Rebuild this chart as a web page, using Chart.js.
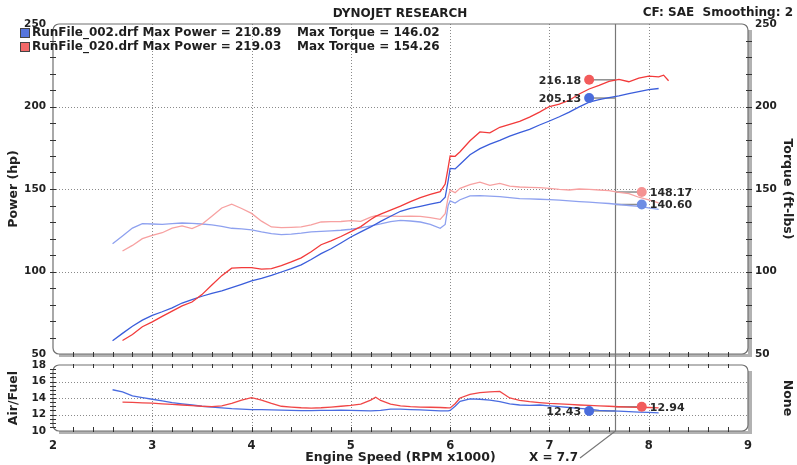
<!DOCTYPE html>
<html>
<head>
<meta charset="utf-8">
<title>Dynojet Research</title>
<script src="https://cdn.jsdelivr.net/npm/chart.js@4.4.1/dist/chart.umd.min.js"></script>
<style>
  html, body { margin: 0; padding: 0; background: #fff; }
  #wrap { position: relative; width: 797px; height: 465px; }
  #powerChart { position: absolute; left: 0; top: 0; }
  #afrChart { position: absolute; left: 0; top: 360px; }
</style>
</head>
<body>
<div id="wrap">
  <canvas id="powerChart" width="797" height="360"></canvas>
  <canvas id="afrChart" width="797" height="105"></canvas>
</div>
<script>
// Dyno run data (RPM x1000)
const runNames = ['RunFile_002.drf', 'RunFile_020.drf'];
const maxPower = [210.89, 219.03];
const maxTorque = [146.02, 154.26];

const blueRpm = [2.6, 2.7, 2.8, 2.9, 3.0, 3.1, 3.2, 3.3, 3.4, 3.5, 3.6, 3.7, 3.8, 3.9, 4.0, 4.1, 4.2, 4.3, 4.4, 4.5,
  4.6, 4.7, 4.8, 4.9, 5.0, 5.1, 5.2, 5.3, 5.4, 5.5, 5.6, 5.7, 5.8, 5.9, 5.95, 5.98, 6.0, 6.05,
  6.1, 6.2, 6.3, 6.4, 6.5, 6.6, 6.7, 6.8, 6.9, 7.0, 7.1, 7.2, 7.3, 7.4, 7.5, 7.6, 7.7, 7.8, 7.9, 8.0, 8.1];
const bluePower = [58.0, 62.5, 66.8, 70.5, 73.4, 75.6, 78.0, 80.9, 83.0, 85.0, 86.8, 88.3, 90.2, 92.2, 94.3, 95.8, 97.6, 99.7, 101.7, 104.0,
  107.3, 110.8, 113.8, 117.3, 120.9, 124.0, 127.0, 130.4, 133.5, 136.5, 138.2, 139.5, 140.8, 142.0, 145.0, 155.0, 162.5, 162.2,
  165.0, 170.8, 174.5, 177.2, 179.5, 182.0, 184.2, 186.2, 188.8, 191.2, 193.8, 196.6, 199.8, 202.6, 204.2, 205.4, 206.4, 207.8, 209.0, 210.2, 210.9];
const blueTorque = [116.8, 121.5, 126.3, 129.0, 128.8, 128.6, 129.0, 129.4, 129.2, 128.8, 128.2, 127.3, 126.2, 125.8, 125.2, 124.0, 123.0, 122.3, 122.6, 123.2,
  124.0, 124.3, 124.6, 125.0, 125.6, 126.5, 127.6, 128.8, 130.2, 131.0, 130.6, 130.0, 128.6, 126.2, 128.5, 140.0, 142.8, 141.5,
  143.5, 145.8, 146.0, 145.7, 145.4, 144.8, 144.2, 144.0, 143.8, 143.5, 143.2, 142.8, 142.4, 142.0, 141.6, 141.2, 140.6, 140.0, 139.5, 138.6, 137.6];
const blueAfr = [15.0, 14.75, 14.25, 14.05, 13.85, 13.65, 13.45, 13.3, 13.15, 13.0, 12.9, 12.8, 12.7, 12.65, 12.6, 12.58, 12.55, 12.52, 12.5, 12.48,
  12.48, 12.5, 12.5, 12.52, 12.5, 12.48, 12.45, 12.5, 12.65, 12.65, 12.6, 12.55, 12.5, 12.45, 12.45, 12.45, 12.5, 13.0,
  13.6, 13.9, 13.85, 13.75, 13.55, 13.3, 13.15, 13.1, 13.15, 13.05, 12.95, 12.85, 12.75, 12.65, 12.5, 12.45, 12.42, 12.35, 12.3, 12.25, 12.2];

const redRpm = [2.7, 2.8, 2.9, 3.0, 3.1, 3.2, 3.3, 3.4, 3.5, 3.6, 3.7, 3.8, 3.9, 4.0, 4.1, 4.2, 4.3, 4.4, 4.5, 4.6,
  4.7, 4.8, 4.9, 5.0, 5.1, 5.2, 5.25, 5.3, 5.4, 5.5, 5.6, 5.7, 5.8, 5.9, 5.95, 5.98, 6.0, 6.05,
  6.1, 6.2, 6.3, 6.4, 6.5, 6.6, 6.7, 6.8, 6.9, 7.0, 7.1, 7.2, 7.3, 7.4, 7.5, 7.6, 7.7, 7.8, 7.9, 8.0, 8.1, 8.15, 8.2];
const redPower = [58.2, 61.8, 66.5, 69.5, 72.8, 76.0, 79.2, 81.5, 86.0, 91.8, 97.5, 102.0, 102.4, 102.3, 101.4, 101.8, 103.6, 105.8, 108.3, 112.0,
  116.2, 118.6, 121.2, 124.2, 127.2, 131.5, 133.4, 134.8, 137.2, 139.6, 142.4, 144.8, 146.8, 148.4, 153.0, 163.0, 170.0, 169.8,
  172.6, 179.2, 184.6, 184.0, 187.4, 189.2, 191.0, 193.6, 196.6, 200.0, 201.4, 203.8, 207.6, 210.6, 212.8, 215.2, 216.4, 215.0, 217.2, 218.4, 218.0, 219.0, 215.6];
const redTorque = [112.4, 115.8, 119.9, 121.9, 123.5, 126.3, 127.6, 126.0, 128.6, 133.5, 138.5, 140.8, 138.2, 135.2, 130.5, 127.0, 126.6, 126.8, 127.0, 128.2,
  130.0, 130.2, 130.3, 130.8, 130.4, 133.0, 133.8, 133.6, 133.6, 133.4, 133.6, 133.4, 132.6, 131.6, 135.0, 145.0, 149.3, 147.8,
  150.4, 152.6, 154.2, 152.2, 153.4, 151.8, 151.2, 151.0, 150.8, 150.4, 149.8, 149.4, 150.0, 149.8, 149.4, 149.0, 148.0, 147.2, 145.0, 143.4, 141.6];
const redAfr = [13.5, 13.48, 13.42, 13.38, 13.3, 13.22, 13.15, 13.08, 13.0, 12.95, 13.05, 13.35, 13.75, 14.05, 13.75, 13.35, 13.0, 12.9, 12.82, 12.78,
  12.82, 12.9, 13.0, 13.1, 13.25, 13.75, 14.1, 13.7, 13.25, 13.05, 12.95, 12.9, 12.88, 12.85, 12.82, 12.8, 12.8, 13.3,
  14.0, 14.45, 14.65, 14.75, 14.8, 14.0, 13.7, 13.55, 13.45, 13.35, 13.28, 13.22, 13.15, 13.1, 13.05, 13.0, 12.94, 12.9, 12.87, 12.85, 12.8];

// cursor readout
const cursorRpm = 7.66;
const leftMarkerRpm = 7.40;
const rightMarkerRpm = 7.93;
const powerAtCursor = [205.13, 216.18];   // blue, red
const torqueAtCursor = [140.60, 148.17];
const afrAtCursor = [12.43, 12.94];

// axis ticks
const powerTicks = [50, 100, 150, 200, 250];
const afrTicks = [10, 12, 14, 16, 18];
const rpmTicks = [2, 3, 4, 5, 6, 7, 8, 9];

const FONT = '"DejaVu Sans", Verdana, sans-serif';
Chart.defaults.font.family = FONT;
Chart.defaults.color = '#222';

const C = {
  bluePower: '#3a5ddb', redPower: '#f23a3a',
  blueTorque: '#8ea1ef', redTorque: '#f7a1a1',
  blueAfr: '#4a6ce0', redAfr: '#f04646',
  grid: '#8a8a8a'
};

function pts(rpm, vals) {
  return vals.map((v, i) => ({ x: rpm[i], y: v }));
}

function curve(rpm, vals, color, axis) {
  return {
    data: pts(rpm, vals), yAxisID: axis, borderColor: color, borderWidth: 1.3,
    pointRadius: 0, tension: 0, fill: false
  };
}

function marker(rpm, value, color, side, axis) {
  return {
    data: [{ x: rpm, y: value }], yAxisID: axis, showLine: false, order: -1,
    pointRadius: 5, pointHoverRadius: 5, pointBackgroundColor: color, pointBorderWidth: 0,
    borderColor: color, labelSide: side
  };
}

// keep the plot box exactly where the axes say (no label overhang padding)
const fixW = w => s => { s.width = w; s.paddingTop = 0; s.paddingBottom = 0; };
const fixH = h => s => { s.height = h; s.paddingLeft = 0; s.paddingRight = 0; };
const noGrid = { display: false, drawTicks: false };

// dotted grid on the interior ticks
function drawGrid(ctx, a, xs, ys, xVals, yVals) {
  ctx.save();
  ctx.strokeStyle = C.grid;
  ctx.lineWidth = 1;
  ctx.setLineDash([1, 2]);
  ctx.beginPath();
  xVals.forEach(v => {
    const x = Math.round(xs.getPixelForValue(v)) + 0.5;
    ctx.moveTo(x, a.top); ctx.lineTo(x, a.bottom);
  });
  yVals.forEach(v => {
    const y = Math.round(ys.getPixelForValue(v)) + 0.5;
    ctx.moveTo(a.left, y); ctx.lineTo(a.right, y);
  });
  ctx.stroke();
  ctx.restore();
}

function drawFrame(ctx, a) {
  const r = 6;
  ctx.save();
  ctx.fillStyle = '#b2b2b2';
  ctx.fillRect(a.right, a.top + r, 4, a.bottom - a.top - r + 3);
  ctx.fillRect(a.left + r, a.bottom, a.right - a.left - r + 4, 3);
  ctx.strokeStyle = '#707070';
  ctx.lineWidth = 1.2;
  ctx.beginPath();
  ctx.roundRect(a.left, a.top, a.right - a.left, a.bottom - a.top, r);
  ctx.stroke();
  ctx.restore();
}

function minorY(ctx, scale, from, to, step, x1, x2) {
  const n = Math.round((to - from) / step);
  for (let i = 1; i < n; i++) {
    const y = Math.round(scale.getPixelForValue(from + i * step)) + 0.5;
    ctx.moveTo(x1, y); ctx.lineTo(x2, y);
  }
}

function minorX(ctx, scale, from, to, step, y1, y2) {
  const n = Math.round((to - from) / step);
  for (let i = 1; i < n; i++) {
    const x = Math.round(scale.getPixelForValue(from + i * step)) + 0.5;
    ctx.moveTo(x, y1); ctx.lineTo(x, y2);
  }
}

function drawLeaders(chart, cx) {
  const ctx = chart.ctx;
  chart.data.datasets.forEach((ds, i) => {
    if (!ds.labelSide) return;
    const p = chart.getDatasetMeta(i).data[0];
    ctx.save();
    ctx.strokeStyle = '#8c8c8c';
    ctx.lineWidth = 1.5;
    ctx.beginPath();
    ctx.moveTo(p.x, p.y); ctx.lineTo(cx, p.y);
    ctx.stroke();
    ctx.restore();
  });
}

function drawMarkerLabels(chart) {
  const ctx = chart.ctx;
  ctx.save();
  ctx.font = 'bold 11px ' + FONT;
  ctx.fillStyle = '#2a2a2a';
  ctx.textBaseline = 'middle';
  chart.data.datasets.forEach((ds, i) => {
    if (!ds.labelSide) return;
    const p = chart.getDatasetMeta(i).data[0];
    const txt = ds.data[0].y.toFixed(2);
    if (ds.labelSide === 'left') {
      ctx.textAlign = 'right';
      ctx.fillText(txt, p.x - 8, p.y + 1);
    } else {
      ctx.textAlign = 'left';
      ctx.fillText(txt, p.x + 8, p.y + 1);
    }
  });
  ctx.restore();
}

const topPlugin = {
  id: 'dynoTop',
  beforeDatasetsDraw(chart) {
    const ctx = chart.ctx, a = chart.chartArea;
    const xs = chart.scales.x, ys = chart.scales.y;
    drawGrid(ctx, a, xs, ys, rpmTicks.slice(1, -1), powerTicks.slice(1, -1));
    drawFrame(ctx, a);
    ctx.save();
    ctx.strokeStyle = '#333';
    ctx.lineWidth = 1;
    ctx.beginPath();
    minorY(ctx, ys, 50, 250, 10, a.left - 3, a.left + 3);
    minorY(ctx, ys, 50, 250, 10, a.right - 2, a.right + 4);
    minorX(ctx, xs, 2, 9, 0.2, a.bottom - 2, a.bottom + 3);
    ctx.stroke();
    // cursor
    const cx = Math.round(xs.getPixelForValue(cursorRpm)) + 0.5;
    ctx.strokeStyle = '#777';
    ctx.lineWidth = 1.2;
    ctx.beginPath();
    ctx.moveTo(cx, a.top); ctx.lineTo(cx, chart.height);
    ctx.stroke();
    ctx.restore();
    drawLeaders(chart, cx);
  },
  afterDatasetsDraw(chart) {
    drawMarkerLabels(chart);
  },
  afterDraw(chart) {
    const ctx = chart.ctx;
    ctx.save();
    ctx.font = 'bold 12px ' + FONT;
    ctx.fillStyle = '#1e1e1e';
    ctx.textBaseline = 'middle';
    ctx.textAlign = 'center';
    ctx.fillText('DYNOJET RESEARCH', 400, 14);
    ctx.textAlign = 'right';
    ctx.fillText('CF: SAE  Smoothing: 2', 793, 13);
    const boxColors = ['#5675de', '#f26868'];
    runNames.forEach((name, i) => {
      const y = 33 + i * 14;
      ctx.fillStyle = boxColors[i];
      ctx.fillRect(20, y - 5, 10, 10);
      ctx.strokeStyle = '#444';
      ctx.lineWidth = 1;
      ctx.strokeRect(20.5, y - 4.5, 9, 9);
      ctx.fillStyle = '#1e1e1e';
      ctx.textAlign = 'left';
      ctx.fillText(name + ' Max Power = ' + maxPower[i].toFixed(2), 32, y);
      ctx.fillText('Max Torque = ' + maxTorque[i].toFixed(2), 297, y);
    });
    ctx.restore();
  }
};

const bottomPlugin = {
  id: 'dynoBottom',
  beforeDatasetsDraw(chart) {
    const ctx = chart.ctx, a = chart.chartArea;
    const xs = chart.scales.x, ys = chart.scales.y;
    drawGrid(ctx, a, xs, ys, rpmTicks.slice(1, -1), afrTicks.slice(1, -1));
    drawFrame(ctx, a);
    ctx.save();
    ctx.strokeStyle = '#333';
    ctx.lineWidth = 1;
    ctx.beginPath();
    minorY(ctx, ys, 10, 18, 0.5, a.left - 3, a.left + 3);
    minorX(ctx, xs, 2, 9, 0.2, a.bottom - 4, a.bottom + 1);
    minorX(ctx, xs, 2, 9, 0.2, a.top - 1, a.top + 3);
    ctx.stroke();
    // cursor and its readout
    const cx = Math.round(xs.getPixelForValue(cursorRpm)) + 0.5;
    ctx.strokeStyle = '#777';
    ctx.lineWidth = 1.2;
    ctx.beginPath();
    ctx.moveTo(cx, 0); ctx.lineTo(cx, a.bottom);
    ctx.lineTo(580, 98);
    ctx.stroke();
    ctx.font = 'bold 12px ' + FONT;
    ctx.fillStyle = '#1e1e1e';
    ctx.textAlign = 'right';
    ctx.textBaseline = 'middle';
    ctx.fillText('X = ' + cursorRpm.toFixed(1), 578, 98);
    ctx.restore();
    drawLeaders(chart, cx);
  },
  afterDatasetsDraw(chart) {
    drawMarkerLabels(chart);
  }
};

const titleFont = { size: 12.5, weight: 'bold' };
const tickFont = { size: 10.5, weight: 'bold' };

new Chart(document.getElementById('powerChart'), {
  type: 'line',
  data: {
    datasets: [
      marker(leftMarkerRpm, powerAtCursor[1], '#f25b5b', 'left', 'y'),
      marker(leftMarkerRpm, powerAtCursor[0], '#4a6cdc', 'left', 'y'),
      marker(rightMarkerRpm, torqueAtCursor[1], '#f59292', 'right', 'yT'),
      marker(rightMarkerRpm, torqueAtCursor[0], '#6f8de4', 'right', 'yT'),
      curve(redRpm, redPower, C.redPower, 'y'),
      curve(blueRpm, bluePower, C.bluePower, 'y'),
      curve(redRpm, redTorque, C.redTorque, 'yT'),
      curve(blueRpm, blueTorque, C.blueTorque, 'yT')
    ]
  },
  options: {
    responsive: false,
    animation: false,
    events: [],
    layout: { padding: { top: 24, left: 0, right: 0, bottom: 0 } },
    plugins: { legend: { display: false }, tooltip: { enabled: false } },
    scales: {
      x: {
        type: 'linear', min: rpmTicks[0], max: rpmTicks[rpmTicks.length - 1],
        ticks: { display: false, stepSize: 1 },
        grid: noGrid,
        border: { display: false },
        afterFit: fixH(6)
      },
      y: {
        position: 'left', min: powerTicks[0], max: powerTicks[powerTicks.length - 1],
        ticks: { stepSize: 50, padding: 7, font: tickFont, color: '#222' },
        grid: noGrid,
        border: { display: false },
        title: { display: true, text: 'Power (hp)', font: titleFont, color: '#222', padding: { top: 6, bottom: 0 } },
        afterFit: fixW(53)
      },
      yT: {
        position: 'right', min: powerTicks[0], max: powerTicks[powerTicks.length - 1],
        ticks: { stepSize: 50, padding: 7, font: tickFont, color: '#222' },
        grid: noGrid,
        border: { display: false },
        title: { display: true, text: 'Torque (ft-lbs)', font: titleFont, color: '#222', padding: { top: 2, bottom: 0 } },
        afterFit: fixW(49)
      }
    }
  },
  plugins: [topPlugin]
});

new Chart(document.getElementById('afrChart'), {
  type: 'line',
  data: {
    datasets: [
      marker(leftMarkerRpm, afrAtCursor[0], '#4a6cdc', 'left', 'y'),
      marker(rightMarkerRpm, afrAtCursor[1], '#f25b5b', 'right', 'y'),
      curve(redRpm, redAfr, C.redAfr, 'y'),
      curve(blueRpm, blueAfr, C.blueAfr, 'y')
    ]
  },
  options: {
    responsive: false,
    animation: false,
    events: [],
    layout: { padding: { top: 5, left: 0, right: 0, bottom: 0 } },
    plugins: { legend: { display: false }, tooltip: { enabled: false } },
    scales: {
      x: {
        type: 'linear', min: rpmTicks[0], max: rpmTicks[rpmTicks.length - 1],
        ticks: { stepSize: 1, padding: 8, font: { size: 11.5, weight: 'bold' }, color: '#222', maxRotation: 0 },
        grid: noGrid,
        border: { display: false },
        title: { display: true, text: 'Engine Speed (RPM x1000)', font: titleFont, color: '#222', padding: { top: 0, bottom: 0 } },
        afterFit: fixH(34)
      },
      y: {
        position: 'left', min: afrTicks[0], max: afrTicks[afrTicks.length - 1],
        ticks: { stepSize: 2, padding: 7, font: tickFont, color: '#222' },
        grid: noGrid,
        border: { display: false },
        title: { display: true, text: 'Air/Fuel', font: titleFont, color: '#222', padding: { top: 6, bottom: 0 } },
        afterFit: fixW(53)
      },
      yN: {
        position: 'right', min: afrTicks[0], max: afrTicks[afrTicks.length - 1],
        ticks: { display: false },
        grid: noGrid,
        border: { display: false },
        title: { display: true, text: 'None', font: titleFont, color: '#222', padding: { top: 2, bottom: 0 } },
        afterFit: fixW(49)
      }
    }
  },
  plugins: [bottomPlugin]
});
</script>
</body>
</html>
